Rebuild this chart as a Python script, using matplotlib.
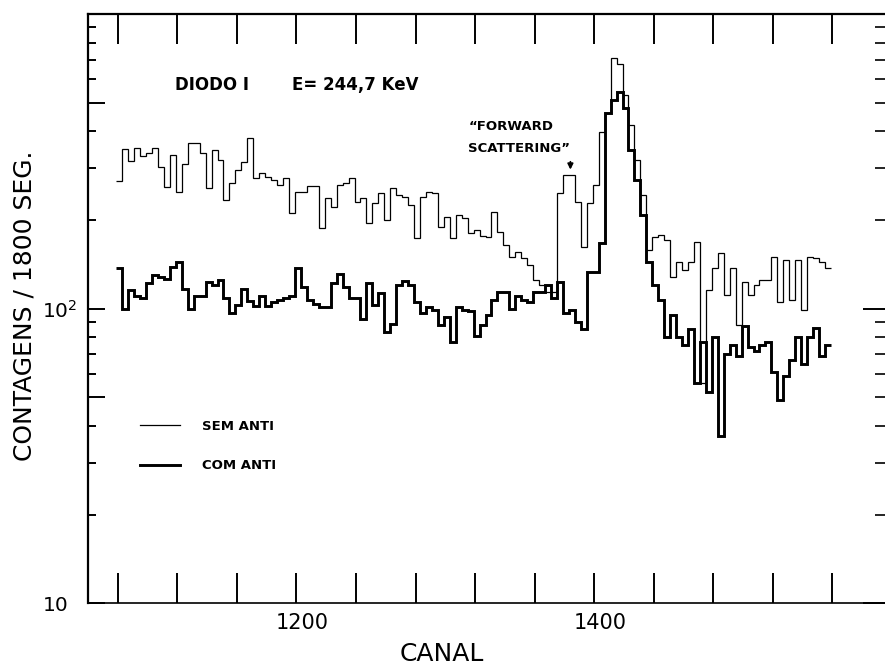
import numpy as np
import matplotlib
matplotlib.use("Agg")
import matplotlib.pyplot as plt
from matplotlib.lines import Line2D
from matplotlib.ticker import FixedLocator, FixedFormatter, FuncFormatter, NullFormatter
from matplotlib.transforms import ScaledTranslation

# espectro em bins de 4 canais, a partir do canal 1079
canal_inicio = 1079
largura_bin = 4

# contagens sem anti-coincidencia (linha fina)
sem_anti = [271, 348, 317, 351, 330, 338, 351, 302, 259, 332,
            249, 310, 365, 365, 338, 257, 345, 319, 234, 267,
            296, 315, 380, 278, 289, 280, 273, 263, 278, 211,
            249, 249, 261, 261, 188, 237, 221, 263, 267, 278,
            230, 237, 195, 228, 247, 200, 257, 243, 239, 225,
            174, 239, 249, 247, 189, 205, 174, 208, 203, 181,
            185, 176, 175, 213, 182, 164, 150, 156, 149, 141,
            125, 120, 114, 114, 247, 284, 284, 230, 162, 228,
            263, 398, 461, 709, 677, 531, 420, 319, 243, 158,
            175, 178, 171, 128, 144, 135, 144, 168, 56, 116,
            137, 155, 111, 137, 88, 123, 111, 120, 125, 125,
            150, 105, 146, 107, 146, 99, 150, 149, 144, 137]

# contagens com anti-coincidencia (linha grossa)
com_anti = [137, 100, 116, 110, 109, 122, 130, 128, 126, 139,
            144, 117, 100, 110, 110, 123, 120, 125, 109, 97,
            103, 117, 106, 102, 110, 102, 105, 107, 109, 110,
            137, 118, 107, 104, 101, 101, 122, 131, 118, 109,
            109, 92, 122, 103, 113, 83, 89, 120, 124, 120,
            105, 97, 101, 99, 88, 94, 77, 101, 99, 98,
            81, 88, 95, 107, 114, 114, 100, 110, 107, 105,
            114, 114, 120, 109, 123, 97, 99, 90, 85, 133,
            133, 167, 461, 511, 544, 480, 346, 273, 208, 144,
            120, 107, 80, 95, 80, 75, 85, 56, 77, 52,
            80, 37, 70, 75, 69, 87, 74, 72, 75, 77,
            61, 49, 59, 67, 80, 65, 80, 86, 69, 75]

ticks_x = list(range(1080, 1601, 40))
rotulos_x = {1200: "1200", 1400: "1400"}
ticks_y = [10, 50, 100, 500, 1000]
rotulos_y = ["10", "", "10$^2$", "", ""]
ticks_y_menores = [20, 30, 40, 60, 70, 80, 90, 200, 300, 400, 600, 700, 800, 900]

bordas = canal_inicio + largura_bin * np.arange(len(sem_anti) + 1)

fig = plt.figure(figsize=(8.85, 6.67), dpi=100)
W, H = 885.0, 667.0
# o eixo vai alem da borda direita da figura (como no original recortado)
ax = fig.add_axes([88 / W, 63.7 / H, 804 / W, 589.3 / H])

ax.stairs(sem_anti, bordas, baseline=None, color="black", lw=0.9)
ax.stairs(com_anti, bordas, baseline=None, color="black", lw=2.1)

ax.set_yscale("log")
ax.set_xlim(1060, 1600)
ax.set_ylim(10, 1000)

ax.xaxis.set_major_locator(FixedLocator(ticks_x))
ax.xaxis.set_major_formatter(FuncFormatter(lambda v, p: rotulos_x.get(int(round(v)), "")))
ax.tick_params(axis="x", which="major", direction="in", top=True, bottom=True,
               length=21.5, width=1.4, labelsize=15, pad=7)

ax.yaxis.set_major_locator(FixedLocator(ticks_y))
ax.yaxis.set_major_formatter(FixedFormatter(rotulos_y))
ax.yaxis.set_minor_locator(FixedLocator(ticks_y_menores))
ax.yaxis.set_minor_formatter(NullFormatter())
ax.tick_params(axis="y", which="major", direction="in", left=True, right=False,
               length=12, width=1.4, labelsize=14.5, pad=14)
ax.tick_params(axis="y", which="minor", direction="in", left=True, right=False,
               length=6, width=1.4)

for lado in ["left", "top"]:
    ax.spines[lado].set_linewidth(1.6)
ax.spines["bottom"].set_linewidth(1.2)

# marcas do lado direito (mais longas)
ax2 = ax.twinx()
ax2.set_yscale("log")
ax2.set_ylim(10, 1000)
ax2.yaxis.set_major_locator(FixedLocator([10, 100, 1000]))
ax2.yaxis.set_minor_locator(FixedLocator([50, 500] + ticks_y_menores))
ax2.yaxis.set_major_formatter(NullFormatter())
ax2.yaxis.set_minor_formatter(NullFormatter())
ax2.tick_params(axis="y", which="major", direction="in", length=21, width=1.4)
ax2.tick_params(axis="y", which="minor", direction="in", length=12, width=1.2)
for s in ax2.spines.values():
    s.set_visible(False)

# rotulos do eixo x um pouco deslocados, como no original
desloc = ScaledTranslation(0.06, 0, fig.dpi_scale_trans)
for lbl in ax.get_xticklabels():
    lbl.set_transform(lbl.get_transform() + desloc)
# o "10^2" fica mais a direita que o "10"
tick_100 = ax.yaxis.get_major_ticks()[2].label1
tick_100.set_transform(tick_100.get_transform() + ScaledTranslation(0.085, 0, fig.dpi_scale_trans))

ax.set_xlabel("CANAL", fontsize=18)
ax.xaxis.set_label_coords((442 - 88) / 804, (603.3 - 654) / 589.3)
ax.xaxis.label.set_va("center")
ax.set_ylabel("CONTAGENS / 1800 SEG.", fontsize=18)
ax.yaxis.set_label_coords((25 - 88) / 804, (603.3 - 306) / 589.3)
ax.yaxis.label.set_va("center")

negrito = dict(fontweight="bold", color="black")
fig.text(175 / W, 1 - 85 / H, "DIODO I", fontsize=12, va="center", ha="left", **negrito)
fig.text(292 / W, 1 - 85 / H, "E= 244,7 KeV", fontsize=12, va="center", ha="left", **negrito)
fig.text(469 / W, 1 - 127 / H, "\u201cFORWARD", fontsize=9.5, va="center", ha="left", **negrito)
fig.text(468 / W, 1 - 148 / H, "SCATTERING\u201d", fontsize=9.5, va="center", ha="left", **negrito)

ax.annotate("", xy=(1384, 290), xytext=(1384, 322),
            arrowprops=dict(arrowstyle="-|>", color="black", lw=1.3, mutation_scale=8))

proxies = [Line2D([], [], color="black", lw=0.9), Line2D([], [], color="black", lw=2.1)]
ax.legend(proxies, ["SEM ANTI", "COM ANTI"], loc="center left",
          bbox_to_anchor=(140 / W, 1 - 446 / H), bbox_transform=fig.transFigure,
          frameon=False, handlelength=3.0, handletextpad=1.7, labelspacing=2.0,
          borderpad=0, borderaxespad=0, prop={"weight": "bold", "size": 9.5})

fig.savefig("out.png", dpi=100)
